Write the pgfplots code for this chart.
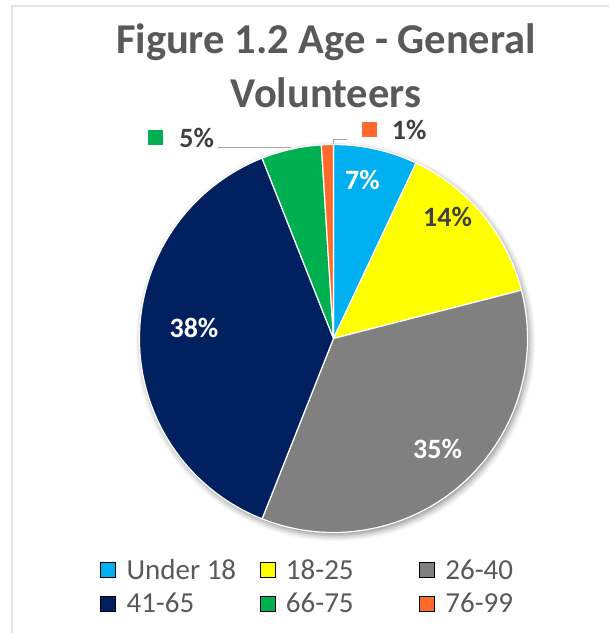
\documentclass[border=0pt]{standalone}
\usepackage{fontspec}
\setmainfont{Carlito}
\usepackage{pgfplots}
\usepackage{pgfplotstable}
\pgfplotsset{compat=1.18}
\usetikzlibrary{shadows.blur}
\definecolor{c0}{HTML}{00B0F0}
\definecolor{c1}{HTML}{FFFF00}
\definecolor{c2}{HTML}{808080}
\definecolor{c3}{HTML}{002060}
\definecolor{c4}{HTML}{00B050}
\definecolor{c5}{HTML}{FF6A2A}
\definecolor{titlegray}{HTML}{595959}
\definecolor{labgray}{HTML}{404040}
\definecolor{leadgray}{HTML}{A6A6A6}
\definecolor{framegray}{HTML}{E3E3E3}

% Age group shares (percent), in drawing order clockwise from the top
\pgfplotstableread{
idx value
0 7
1 14
2 35
3 38
4 5
5 1
}\agedata

\begin{document}
\begin{tikzpicture}
\useasboundingbox (0,0) rectangle (609bp,633bp);
\begin{axis}[
  at={(0,0)}, anchor=south west,
  scale only axis, width=609bp, height=633bp,
  xmin=0, xmax=609, ymin=0, ymax=633,
  hide axis, clip=false,
  legend columns=3,
  legend image code/.code={\fill[#1] (0bp,-7.5bp) rectangle (15bp,7.5bp);},
  legend style={draw=none, fill=none, at={(axis cs:100,76)}, anchor=north west,
    font=\fontsize{29bp}{34bp}\selectfont, text=titlegray,
    column sep=9bp, row sep=8bp, cells={anchor=west}, inner sep=0pt},
]
% frame
\draw[framegray, line width=1.5bp] (axis cs:12,0) -- (axis cs:12,627) -- (axis cs:609,627);
\pgfplotsextra{%
  \fill[white, blur shadow={shadow xshift=2bp, shadow yshift=-3bp, shadow blur radius=6bp, shadow opacity=45}]
    (axis cs:333.5,294.5) circle[radius=194bp];
  \def\cum{0}%
  \pgfplotsforeachungrouped \i in {0,...,5}{%
    \pgfplotstablegetelem{\i}{value}\of\agedata
    \let\v\pgfplotsretval
    \pgfmathsetmacro\a{90-3.6*\cum}%
    \pgfmathsetmacro\b{90-3.6*(\cum+\v)}%
    \filldraw[fill=c\i, draw=white, line width=1.2bp, line join=round]
      (axis cs:333.5,294.5) -- ++(\a:194bp) arc[start angle=\a, end angle=\b, radius=194bp] -- cycle;
    \pgfmathsetmacro\cum{\cum+\v}%
  }%
}
\addlegendimage{fill=c0}\addlegendentry{\makebox[122bp][l]{Under 18}}
\addlegendimage{fill=c1}\addlegendentry{\makebox[122bp][l]{18-25}}
\addlegendimage{fill=c2}\addlegendentry{\makebox[122bp][l]{26-40}}
\addlegendimage{fill=c3}\addlegendentry{\makebox[122bp][l]{41-65}}
\addlegendimage{fill=c4}\addlegendentry{\makebox[122bp][l]{66-75}}
\addlegendimage{fill=c5}\addlegendentry{\makebox[122bp][l]{76-99}}
% title
\node[anchor=base, text=titlegray, font=\fontsize{42.5bp}{42.5bp}\selectfont\bfseries] at (axis cs:326,579) {Figure 1.2 Age - General};
\node[anchor=base, text=titlegray, font=\fontsize{42.5bp}{42.5bp}\selectfont\bfseries] at (axis cs:326,525) {Volunteers};
% data labels
\node[anchor=base, text=white, font=\fontsize{28bp}{28bp}\selectfont\bfseries] at (axis cs:362.5,443.7) {7\%};
\node[anchor=base, text=labgray, font=\fontsize{28bp}{28bp}\selectfont\bfseries] at (axis cs:447.5,406.3) {14\%};
\node[anchor=base, text=white, font=\fontsize{28bp}{28bp}\selectfont\bfseries] at (axis cs:437.5,174.7) {35\%};
\node[anchor=base, text=white, font=\fontsize{28bp}{28bp}\selectfont\bfseries] at (axis cs:194,295) {38\%};
% outside labels with leader lines
\draw[leadgray, line width=1.5bp] (axis cs:218,485.7) -- (axis cs:291,485.7);
\draw[leadgray, line width=1.5bp] (axis cs:333.5,488.5) -- (axis cs:333.5,493.7) -- (axis cs:347,493.7);
\fill[c4] (axis cs:148,487.5) rectangle (axis cs:163,502.5);
\node[anchor=base, text=labgray, font=\fontsize{28bp}{28bp}\selectfont\bfseries] at (axis cs:196.7,485.7) {5\%};
\fill[c5] (axis cs:362,495.7) rectangle (axis cs:377,510.7);
\node[anchor=base, text=labgray, font=\fontsize{28bp}{28bp}\selectfont\bfseries] at (axis cs:409.2,493.7) {1\%};
\end{axis}
\end{tikzpicture}
\end{document}
